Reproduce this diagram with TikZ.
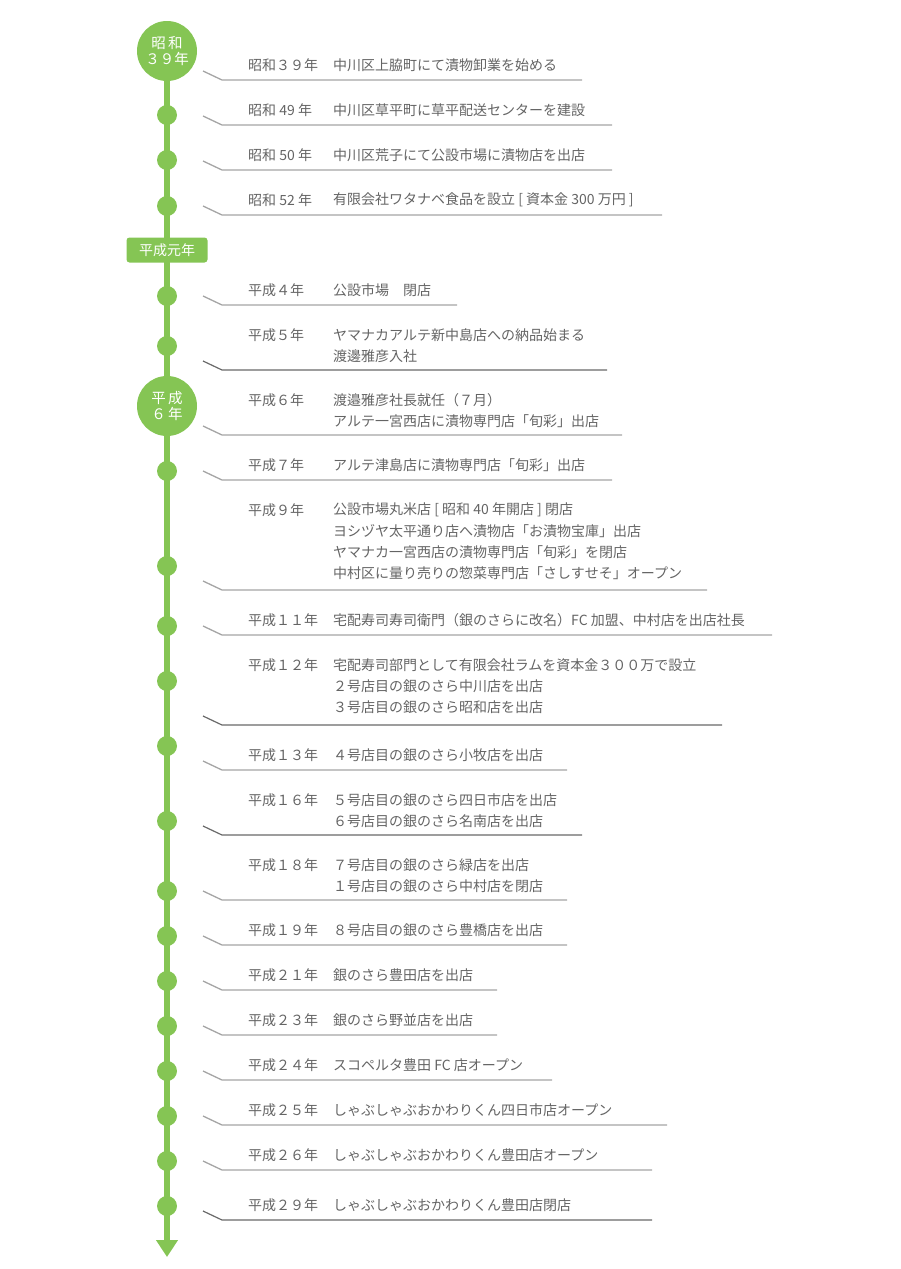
\documentclass[tikz,border=0pt]{standalone}
\usepackage{fontspec}
\setmainfont{Noto Sans CJK JP}
\usetikzlibrary{arrows.meta}
\definecolor{tlgreen}{RGB}{133,197,84}
\definecolor{txtgray}{RGB}{100,100,100}
\definecolor{linegray}{RGB}{165,165,165}
\definecolor{linedark}{RGB}{105,105,105}
\begin{document}
\begin{tikzpicture}[x=1pt,y=-1pt,
 dot/.style={circle,fill=tlgreen,minimum size=20pt,inner sep=0},
 bigdot/.style={circle,fill=tlgreen,minimum size=60pt,inner sep=0,text=white,align=center,font=\fontsize{14.5}{18}\selectfont},
 era/.style={rounded corners=3pt,fill=tlgreen,minimum width=81pt,minimum height=25pt,inner sep=0,text=white,font=\fontsize{14}{15}\selectfont},
 spine/.style={tlgreen,line width=5.5pt,shorten <=-1.5pt,shorten >=-1.5pt},
 spineend/.style={tlgreen,line width=5.5pt,shorten <=-1.5pt,-{Triangle[width=21pt,length=17pt]}},
 yr/.style={anchor=west,inner sep=0,text=txtgray,font=\fontsize{14}{16}\selectfont},
 ev/.style={yr},
 rule/.style={linegray,line width=1.3pt},
 ruledark/.style={linedark,line width=1.2pt}
]
\useasboundingbox (0,0) rectangle (900,1269);

% timeline markers
\node[bigdot] (c1) at (167,51) {昭\,和\\[-2pt]３９年};
\node[dot] (d1) at (167,115) {};
\node[dot] (d2) at (167,160) {};
\node[dot] (d3) at (167,206) {};
\node[era] (era) at (167,250) {平成元年};
\node[dot] (d4) at (167,296) {};
\node[dot] (d5) at (167,346) {};
\node[bigdot] (c2) at (167,406) {平\,成\\[-2pt]６\,年};
\node[dot] (d6) at (167,471) {};
\node[dot] (d7) at (167,566) {};
\node[dot] (d8) at (167,626) {};
\node[dot] (d9) at (167,681) {};
\node[dot] (d10) at (167,746) {};
\node[dot] (d11) at (167,821) {};
\node[dot] (d12) at (167,891) {};
\node[dot] (d13) at (167,936) {};
\node[dot] (d14) at (167,981) {};
\node[dot] (d15) at (167,1026) {};
\node[dot] (d16) at (167,1071) {};
\node[dot] (d17) at (167,1116) {};
\node[dot] (d18) at (167,1161) {};
\node[dot] (d19) at (167,1206) {};
\coordinate (tip) at (167,1257);

\foreach \a/\b in {c1/d1,d1/d2,d2/d3,d3/era,era/d4,d4/d5,d5/c2,c2/d6,d6/d7,d7/d8,d8/d9,d9/d10,d10/d11,d11/d12,d12/d13,d13/d14,d14/d15,d15/d16,d16/d17,d17/d18,d18/d19}
  \draw[spine] (\a) -- (\b);
\draw[spineend] (d19) -- (tip);

% entries
\node[yr] (y1) at (248,65) {昭和３９年};
\node[ev] (e1) at (333,65) {中川区上脇町にて漬物卸業を始める};
\draw[rule] (203,71) -- (222,80) -- (582,80);

\node[yr] (y2) at (248,110) {昭和 49 年};
\node[ev] (e2) at (333,110) {中川区草平町に草平配送センターを建設};
\draw[rule] (203,116) -- (222,125) -- (612,125);

\node[yr] (y3) at (248,155) {昭和 50 年};
\node[ev] (e3) at (333,155) {中川区荒子にて公設市場に漬物店を出店};
\draw[rule] (203,161) -- (222,170) -- (612,170);

\node[yr] (y4) at (248,200) {昭和 52 年};
\node[ev] (e4) at (333,200) {有限会社ワタナベ食品を設立 [ 資本金 300 万円 ]};
\draw[rule] (203,206) -- (222,215) -- (662,215);

\node[yr] (y5) at (248,290) {平成４年};
\node[ev] (e5) at (333,290) {公設市場　閉店};
\draw[rule] (203,296) -- (222,305) -- (457,305);

\node[yr] (y6) at (248,335) {平成５年};
\node[ev] (e6a) at (333,335) {ヤマナカアルテ新中島店への納品始まる};
\node[ev] (e6b) at (333,356) {渡邊雅彦入社};
\draw[ruledark] (203,361) -- (222,370) -- (607,370);

\node[yr] (y7) at (248,400) {平成６年};
\node[ev] (e7a) at (333,400) {渡邉雅彦社長就任（７月）};
\node[ev] (e7b) at (333,421) {アルテ一宮西店に漬物専門店「旬彩」出店};
\draw[rule] (203,426) -- (222,435) -- (622,435);

\node[yr] (y8) at (248,465) {平成７年};
\node[ev] (e8) at (333,465) {アルテ津島店に漬物専門店「旬彩」出店};
\draw[rule] (203,471) -- (222,480) -- (612,480);

\node[yr] (y9) at (248,510) {平成９年};
\node[ev] (e9a) at (333,510) {公設市場丸米店 [ 昭和 40 年開店 ] 閉店};
\node[ev] (e9b) at (333,531) {ヨシヅヤ太平通り店へ漬物店「お漬物宝庫」出店};
\node[ev] (e9c) at (333,552) {ヤマナカ一宮西店の漬物専門店「旬彩」を閉店};
\node[ev] (e9d) at (333,573) {中村区に量り売りの惣菜専門店「さしすせそ」オープン};
\draw[rule] (203,581) -- (222,590) -- (707,590);

\node[yr] (y10) at (248,620) {平成１１年};
\node[ev] (e10) at (333,620) {宅配寿司寿司衛門（銀のさらに改名）FC 加盟、中村店を出店社長};
\draw[rule] (203,626) -- (222,635) -- (772,635);

\node[yr] (y11) at (248,665) {平成１２年};
\node[ev] (e11a) at (333,665) {宅配寿司部門として有限会社ラムを資本金３００万で設立};
\node[ev] (e11b) at (333,686) {２号店目の銀のさら中川店を出店};
\node[ev] (e11c) at (333,707) {３号店目の銀のさら昭和店を出店};
\draw[ruledark] (203,716) -- (222,725) -- (722,725);

\node[yr] (y12) at (248,755) {平成１３年};
\node[ev] (e12) at (333,755) {４号店目の銀のさら小牧店を出店};
\draw[rule] (203,761) -- (222,770) -- (567,770);

\node[yr] (y13) at (248,800) {平成１６年};
\node[ev] (e13a) at (333,800) {５号店目の銀のさら四日市店を出店};
\node[ev] (e13b) at (333,821) {６号店目の銀のさら名南店を出店};
\draw[ruledark] (203,826) -- (222,835) -- (582,835);

\node[yr] (y14) at (248,865) {平成１８年};
\node[ev] (e14a) at (333,865) {７号店目の銀のさら緑店を出店};
\node[ev] (e14b) at (333,886) {１号店目の銀のさら中村店を閉店};
\draw[rule] (203,891) -- (222,900) -- (567,900);

\node[yr] (y15) at (248,930) {平成１９年};
\node[ev] (e15) at (333,930) {８号店目の銀のさら豊橋店を出店};
\draw[rule] (203,936) -- (222,945) -- (567,945);

\node[yr] (y16) at (248,975) {平成２１年};
\node[ev] (e16) at (333,975) {銀のさら豊田店を出店};
\draw[rule] (203,981) -- (222,990) -- (497,990);

\node[yr] (y17) at (248,1020) {平成２３年};
\node[ev] (e17) at (333,1020) {銀のさら野並店を出店};
\draw[rule] (203,1026) -- (222,1035) -- (497,1035);

\node[yr] (y18) at (248,1065) {平成２４年};
\node[ev] (e18) at (333,1065) {スコペルタ豊田 FC 店オープン};
\draw[rule] (203,1071) -- (222,1080) -- (552,1080);

\node[yr] (y19) at (248,1110) {平成２５年};
\node[ev] (e19) at (333,1110) {しゃぶしゃぶおかわりくん四日市店オープン};
\draw[rule] (203,1116) -- (222,1125) -- (667,1125);

\node[yr] (y20) at (248,1155) {平成２６年};
\node[ev] (e20) at (333,1155) {しゃぶしゃぶおかわりくん豊田店オープン};
\draw[rule] (203,1161) -- (222,1170) -- (652,1170);

\node[yr] (y21) at (248,1205) {平成２９年};
\node[ev] (e21) at (333,1205) {しゃぶしゃぶおかわりくん豊田店閉店};
\draw[ruledark] (203,1211) -- (222,1220) -- (652,1220);
\end{tikzpicture}
\end{document}
